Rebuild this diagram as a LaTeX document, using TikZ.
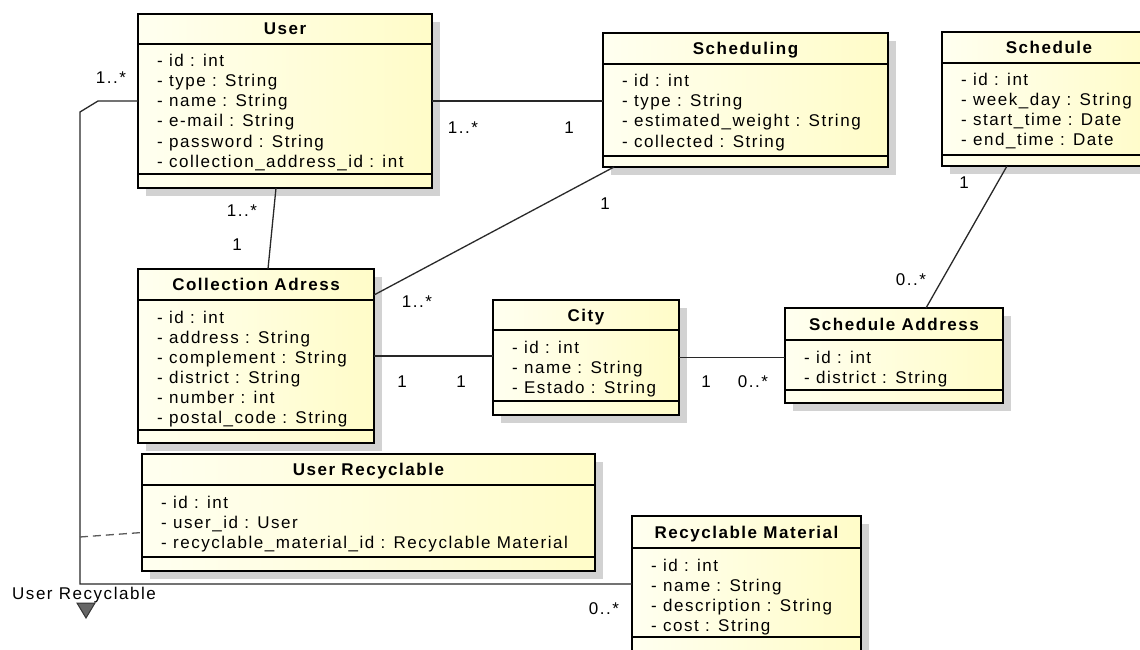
\documentclass[tikz,border=0pt]{standalone}
\usepackage{fontspec}
\setmainfont{Liberation Sans}[LetterSpace=9]
\usetikzlibrary{shadows}
\definecolor{ucl}{RGB}{255,255,240}
\definecolor{ucr}{RGB}{255,252,200}
\definecolor{ushadow}{RGB}{210,210,210}
\definecolor{uline}{RGB}{40,40,40}
\definecolor{udash}{RGB}{90,90,90}
\newcommand{\umlfont}{\fontsize{17}{20}\selectfont}
\tikzset{
  classbox/.style={draw=black, line width=2.6pt, left color=ucl, right color=ucr,
    inner sep=0pt, outer sep=0pt,
    drop shadow={shadow xshift=8pt, shadow yshift=-8pt, fill=ushadow, opacity=1}},
  divider/.style={draw=black, line width=1.4pt},
  titletext/.style={font={\umlfont\bfseries}, inner sep=0pt, anchor=base},
  attrtext/.style={font=\umlfont, inner sep=0pt, anchor=base west},
  assoc/.style={draw=uline, line width=1.3pt},
  assocdash/.style={draw=udash, line width=1.3pt, dash pattern=on 8pt off 5pt},
  mult/.style={font=\umlfont, inner sep=0pt, anchor=center, text=black},
}
% #1 name, #2 x1, #3 ytop, #4 x2, #5 ybottom, #6 header divider, #7 bottom divider, #8 title, #9 attributes
\newcommand{\umlclass}[9]{%
  \node[classbox, anchor=north west, minimum width={#4-#2}, minimum height={#5-#3}] (#1) at (#2,#3) {};
  \draw[divider] (#2,#6) -- (#4,#6);
  \draw[divider] (#2,#7) -- (#4,#7);
  \node[titletext] (#1-title) at ({(#2+#4)/2},{(#3+#6)/2+6}) {#8};
  \foreach \a [count=\i] in {#9} {\node[attrtext] (#1-a\i) at ({#2+19},{#6+23+20*(\i-1)}) {\a};}
}
\begin{document}
\begin{tikzpicture}[x=1pt,y=-1pt,font=\umlfont]
\useasboundingbox[fill=white] (0,0) rectangle (1140,650);

\umlclass{user}{138}{14}{432}{188}{44}{174}{User}{- id : int, - type : String, - name : String, - e-mail : String, - password : String, - collection\_address\_id : int}
\umlclass{scheduling}{603}{33}{888}{167}{64}{156}{Scheduling}{- id : int, - type : String, - estimated\_weight : String, - collected : String}
\umlclass{schedule}{942}{32}{1156}{166}{63}{155}{Schedule}{- id : int, - week\_day : String, - start\_time : Date, - end\_time : Date}
\umlclass{colladr}{138}{269}{374}{443}{300}{430}{Collection Adress}{- id : int, - address : String, - complement : String, - district : String, - number : int, - postal\_code : String}
\umlclass{city}{493}{300}{679}{415}{330}{401}{City}{- id : int, - name : String, - Estado : String}
\umlclass{schedaddr}{785}{308}{1003}{403}{340}{390}{Schedule Address}{- id : int, - district : String}
\umlclass{userrec}{142}{454}{595}{571}{485}{557}{User Recyclable}{- id : int, - user\_id : User, - recyclable\_material\_id : Recyclable Material}
\umlclass{recmat}{632}{516}{861}{665}{548}{637}{Recyclable Material}{- id : int, - name : String, - description : String, - cost : String}

% associations
\draw[assoc] (user.east) -- (scheduling.west |- user.east);
\draw[assoc] ([xshift=-9pt]user.south) -- ([xshift=12pt]colladr.north);
\draw[assoc] ([xshift=11pt]scheduling.south west) -- ([yshift=-26pt]colladr.north east);
\draw[assoc] ([xshift=65pt]schedule.south west) -- ([xshift=141pt]schedaddr.north west);
\draw[assoc] (colladr.east) -- (city.west |- colladr.east);
\draw[assoc] (city.east) -- (schedaddr.west |- city.east);

\coordinate (k1) at (98,101);
\coordinate (k2) at (80,112);
\coordinate (k3) at (80,584);
\coordinate (k4) at (80,537);
\draw[assoc] (user.west) -- (k1) -- (k2) -- (k3) -- (k3 -| recmat.west);
\draw[assocdash] (k4) -- ([yshift=-20pt]userrec.west);

% multiplicities
\node[mult] (m1) at (111,78) {1..*};
\node[mult] (m2) at (463,128) {1..*};
\node[mult] (m3) at (569,128) {1};
\node[mult] (m4) at (242,211) {1..*};
\node[mult] (m5) at (237,245) {1};
\node[mult] (m6) at (605,204) {1};
\node[mult] (m7) at (417,302) {1..*};
\node[mult] (m8) at (964,183) {1};
\node[mult] (m9) at (911,280) {0..*};
\node[mult] (m10) at (402,382) {1};
\node[mult] (m11) at (461,382) {1};
\node[mult] (m12) at (706,382) {1};
\node[mult] (m13) at (753,382) {0..*};
\node[mult] (m14) at (604,609) {0..*};

% association class label and marker
\node[mult] (urlabel) at (84,595) {User Recyclable};
\draw[fill=gray!80!black, draw=black!80, line width=1pt] (77,603) -- (95,603) -- (86,618) -- cycle;
\end{tikzpicture}
\end{document}
